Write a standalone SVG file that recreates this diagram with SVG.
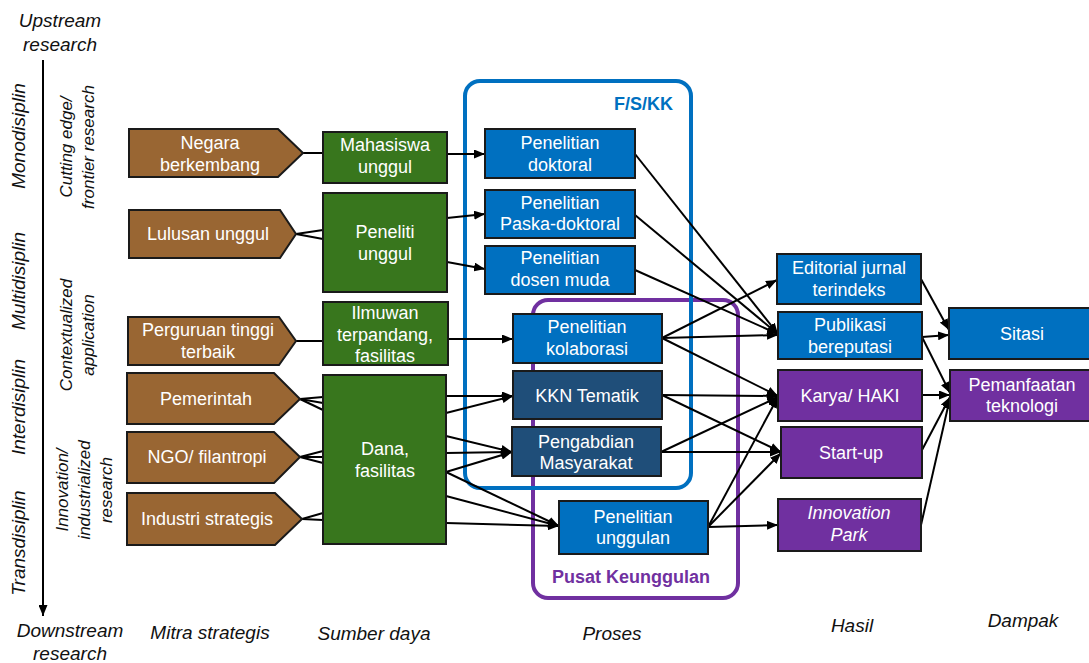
<svg xmlns="http://www.w3.org/2000/svg" width="1089" height="663" viewBox="0 0 1089 663">
<style>
.t{font-family:"Liberation Sans",Arial,sans-serif;font-size:18px;fill:#fff;text-anchor:middle}
.lbl{font-family:"Liberation Sans",Arial,sans-serif;font-style:italic;font-size:19px;fill:#111;text-anchor:middle}
.lbl2{font-family:"Liberation Sans",Arial,sans-serif;font-style:italic;font-size:17px;fill:#111;text-anchor:middle}
.brown{fill:#996633;stroke:#1a1a1a;stroke-width:2}
.green{fill:#38761d;stroke:#1a1a1a;stroke-width:2}
.blue{fill:#0070c0;stroke:#1a1a1a;stroke-width:2}
.dblue{fill:#1f4e79;stroke:#1a1a1a;stroke-width:2}
.purple{fill:#7030a0;stroke:#1a1a1a;stroke-width:2}
.c line{stroke:#000;stroke-width:2}
.c .a{marker-end:url(#ah)}
</style>
<defs>
<marker id="ah" markerUnits="userSpaceOnUse" markerWidth="11" markerHeight="9" refX="11" refY="4.5" orient="auto">
<path d="M0,0 L11,4.5 L0,9 z" fill="#000"/>
</marker>
</defs>
<rect width="1089" height="663" fill="#fff"/>

<g id="axis-labels">
<text class="lbl" x="60" y="27">Upstream</text>
<text class="lbl" x="60" y="51">research</text>
<text class="lbl" x="70" y="637">Downstream</text>
<text class="lbl" x="70" y="660">research</text>
<line x1="43" y1="60" x2="43" y2="616" stroke="#000" stroke-width="2" marker-end="url(#ah)"/>
<text class="lbl" transform="translate(25,136) rotate(-90)">Monodisiplin</text>
<text class="lbl" transform="translate(25,281) rotate(-90)">Multidisiplin</text>
<text class="lbl" transform="translate(25,407) rotate(-90)">Interdisiplin</text>
<text class="lbl" transform="translate(25,543) rotate(-90)">Transdisiplin</text>
<text class="lbl2" transform="translate(72,147) rotate(-90)">Cutting edge/</text>
<text class="lbl2" transform="translate(94,147) rotate(-90)">frontier research</text>
<text class="lbl2" transform="translate(72,335) rotate(-90)">Contextualized</text>
<text class="lbl2" transform="translate(94,335) rotate(-90)">application</text>
<text class="lbl2" transform="translate(68,490) rotate(-90)">Innovation/</text>
<text class="lbl2" transform="translate(90,490) rotate(-90)">industrialized</text>
<text class="lbl2" transform="translate(112,490) rotate(-90)">research</text>
<text class="lbl" x="210" y="639">Mitra strategis</text>
<text class="lbl" x="374" y="640">Sumber daya</text>
<text class="lbl" x="612" y="640">Proses</text>
<text class="lbl" x="852" y="632">Hasil</text>
<text class="lbl" x="1023" y="627">Dampak</text>
</g>

<g id="containers">
<rect x="533" y="300" width="205" height="298" rx="15" fill="none" stroke="#7030a0" stroke-width="4"/>
<rect x="465" y="81" width="226" height="407" rx="15" fill="none" stroke="#0070c0" stroke-width="4"/>
<text x="673" y="110" font-family="Liberation Sans,Arial,sans-serif" font-size="18" font-weight="bold" fill="#0070c0" text-anchor="end">F/S/KK</text>
<text x="631" y="583" font-family="Liberation Sans,Arial,sans-serif" font-size="18" font-weight="bold" fill="#7030a0" text-anchor="middle">Pusat Keunggulan</text>
</g>

<g id="connectors" class="c">
<line x1="303" y1="153" x2="323" y2="153"/>
<line x1="296" y1="234" x2="323" y2="230"/>
<line x1="296" y1="234" x2="323" y2="239"/>
<line x1="296" y1="341" x2="323" y2="341"/>
<line x1="300" y1="399" x2="323" y2="397"/>
<line x1="300" y1="399" x2="323" y2="403"/>
<line x1="300" y1="399" x2="323" y2="410"/>
<line x1="300" y1="457" x2="323" y2="451"/>
<line x1="300" y1="457" x2="323" y2="457"/>
<line x1="300" y1="457" x2="323" y2="463"/>
<line x1="302" y1="519" x2="323" y2="513"/>
<line x1="302" y1="519" x2="323" y2="520"/>

<line class="a" x1="447" y1="154" x2="485" y2="154"/>
<line class="a" x1="447" y1="218" x2="485" y2="214"/>
<line class="a" x1="447" y1="262" x2="485" y2="269"/>
<line class="a" x1="448" y1="339" x2="513" y2="339"/>
<line class="a" x1="446" y1="396" x2="513" y2="396"/>
<line class="a" x1="446" y1="413" x2="513" y2="396"/>
<line class="a" x1="446" y1="436" x2="512" y2="452"/>
<line class="a" x1="446" y1="453" x2="512" y2="452"/>
<line class="a" x1="446" y1="472" x2="512" y2="452"/>
<line class="a" x1="446" y1="472" x2="559" y2="526"/>
<line class="a" x1="446" y1="496" x2="559" y2="526"/>
<line class="a" x1="446" y1="523" x2="559" y2="526"/>

<line class="a" x1="635" y1="154" x2="778" y2="334"/>
<line class="a" x1="635" y1="215" x2="778" y2="334"/>
<line class="a" x1="635" y1="270" x2="778" y2="334"/>
<line class="a" x1="662" y1="338" x2="777" y2="280"/>
<line class="a" x1="662" y1="338" x2="778" y2="335"/>
<line class="a" x1="662" y1="338" x2="778" y2="396"/>
<line class="a" x1="662" y1="395" x2="778" y2="396"/>
<line class="a" x1="662" y1="395" x2="781" y2="452"/>
<line class="a" x1="661" y1="452" x2="778" y2="397"/>
<line class="a" x1="661" y1="452" x2="781" y2="452"/>
<line class="a" x1="708" y1="527" x2="778" y2="397"/>
<line class="a" x1="708" y1="527" x2="781" y2="453"/>
<line class="a" x1="708" y1="527" x2="778" y2="525"/>

<line class="a" x1="921" y1="279" x2="949" y2="330"/>
<line class="a" x1="922" y1="337" x2="949" y2="335"/>
<line class="a" x1="922" y1="337" x2="950" y2="393"/>
<line class="a" x1="922" y1="395" x2="950" y2="395"/>
<line class="a" x1="922" y1="450" x2="950" y2="397"/>
<line class="a" x1="921" y1="525" x2="950" y2="398"/>
</g>

<g id="negara"><polygon class="brown" points="129,129 278,129 303,153 278,177 129,177"/><text class="t" x="210" y="149">Negara</text><text class="t" x="210" y="171">berkembang</text></g>
<g id="lulusan"><polygon class="brown" points="129,210 280,210 296,234 280,258 129,258"/><text class="t" x="208" y="240">Lulusan unggul</text></g>
<g id="perguruan"><polygon class="brown" points="128,317 279,317 296,341 279,365 128,365"/><text class="t" x="208" y="336">Perguruan tinggi</text><text class="t" x="208" y="358">terbaik</text></g>
<g id="pemerintah"><polygon class="brown" points="127,373 274,373 300,399 274,424 127,424"/><text class="t" x="206" y="405">Pemerintah</text></g>
<g id="ngo"><polygon class="brown" points="127,432 274,432 300,457 274,483 127,483"/><text class="t" x="207" y="463">NGO/ filantropi</text></g>
<g id="industri"><polygon class="brown" points="127,493 275,493 302,519 275,545 127,545"/><text class="t" x="207" y="525">Industri strategis</text></g>

<g id="mahasiswa"><rect class="green" x="323" y="132" width="124" height="51"/><text class="t" x="385" y="151">Mahasiswa</text><text class="t" x="385" y="173">unggul</text></g>
<g id="peneliti"><rect class="green" x="323" y="193" width="124" height="99"/><text class="t" x="385" y="238">Peneliti</text><text class="t" x="385" y="260">unggul</text></g>
<g id="ilmuwan"><rect class="green" x="323" y="302" width="125" height="63"/><text class="t" x="385" y="319">Ilmuwan</text><text class="t" x="385" y="341">terpandang,</text><text class="t" x="385" y="362">fasilitas</text></g>
<g id="dana"><rect class="green" x="323" y="375" width="123" height="169"/><text class="t" x="385" y="455">Dana,</text><text class="t" x="385" y="477">fasilitas</text></g>

<g id="doktoral"><rect class="blue" x="485" y="129" width="150" height="49"/><text class="t" x="560" y="149">Penelitian</text><text class="t" x="560" y="171">doktoral</text></g>
<g id="paska"><rect class="blue" x="485" y="190" width="150" height="48"/><text class="t" x="560" y="209">Penelitian</text><text class="t" x="560" y="230">Paska-doktoral</text></g>
<g id="dosen"><rect class="blue" x="485" y="246" width="150" height="48"/><text class="t" x="560" y="264">Penelitian</text><text class="t" x="560" y="286">dosen muda</text></g>
<g id="kolaborasi"><rect class="blue" x="513" y="314" width="149" height="49"/><text class="t" x="587" y="333">Penelitian</text><text class="t" x="587" y="355">kolaborasi</text></g>
<g id="kkn"><rect class="dblue" x="513" y="371" width="149" height="48"/><text class="t" x="587" y="402">KKN Tematik</text></g>
<g id="pengabdian"><rect class="dblue" x="512" y="427" width="149" height="49"/><text class="t" x="586" y="448">Pengabdian</text><text class="t" x="586" y="469">Masyarakat</text></g>
<g id="unggulan"><rect class="blue" x="559" y="501" width="149" height="53"/><text class="t" x="633" y="523">Penelitian</text><text class="t" x="633" y="544">unggulan</text></g>

<g id="editorial"><rect class="blue" x="777" y="254" width="144" height="50"/><text class="t" x="849" y="274">Editorial jurnal</text><text class="t" x="849" y="296">terindeks</text></g>
<g id="publikasi"><rect class="blue" x="778" y="312" width="144" height="47"/><text class="t" x="850" y="331">Publikasi</text><text class="t" x="850" y="353">bereputasi</text></g>
<g id="karya"><rect class="purple" x="778" y="370" width="144" height="51"/><text class="t" x="850" y="402">Karya/ HAKI</text></g>
<g id="startup"><rect class="purple" x="781" y="427" width="141" height="51"/><text class="t" x="851" y="459">Start-up</text></g>
<g id="innovation"><rect class="purple" x="778" y="499" width="143" height="52"/><text class="t" x="849" y="519" font-style="italic">Innovation</text><text class="t" x="849" y="541" font-style="italic">Park</text></g>

<g id="sitasi"><rect class="blue" x="949" y="308" width="145" height="51"/><text class="t" x="1022" y="340">Sitasi</text></g>
<g id="pemanfaatan"><rect class="purple" x="950" y="370" width="144" height="51"/><text class="t" x="1022" y="391">Pemanfaatan</text><text class="t" x="1022" y="412">teknologi</text></g>
</svg>
